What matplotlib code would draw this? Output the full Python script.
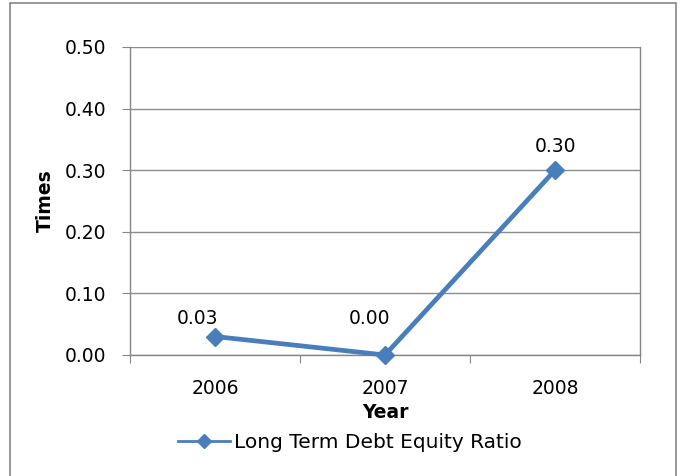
import matplotlib
matplotlib.use("Agg")
import matplotlib.pyplot as plt
from matplotlib.patches import Rectangle

years = ["2006", "2007", "2008"]
ratio = [0.03, 0.00, 0.30]
labels = ["0.03", "0.00", "0.30"]
yticks = [0.0, 0.1, 0.2, 0.3, 0.4, 0.5]
label_offsets_px = [(-17, 18), (-15, 37), (0, 24)]

plt.rcParams['font.family'] = ['DejaVu Sans']
FS = 13.5
fig = plt.figure(figsize=(6.81, 4.76), dpi=100)
ax = fig.add_axes([130/681, 1-355/476, 510/681, 308/476])

color = "#4A7EBB"
x = list(range(len(years)))
line, = ax.plot(x, ratio, color=color, linewidth=3.4, marker="D", markersize=9,
                label="Long Term Debt Equity Ratio", zorder=3, clip_on=False)
for xi, v, t, off in zip(x, ratio, labels, label_offsets_px):
    ax.annotate(t, (xi, v), xytext=off, textcoords="offset pixels",
                ha="center", va="center", fontsize=FS)

ax.set_xlim(-0.5, 2.5)
ax.set_ylim(0, 0.5)
ax.set_yticks(yticks)
ax.set_yticklabels([f"{t:.2f}" for t in yticks], fontsize=FS)
ax.set_xticks([-0.5, 0.5, 1.5, 2.5])
ax.set_xticklabels([])
ax.set_xticks(x, minor=True)
ax.set_xticklabels(years, minor=True, fontsize=FS)
ax.tick_params(axis="x", which="minor", length=0, pad=17)
ax.tick_params(axis="x", which="major", length=6, color="#868686", direction="out")
ax.tick_params(axis="y", length=6, color="#868686", direction="out", pad=11)
ax.grid(axis="y", color="#8c8c8c", linewidth=1)
ax.set_axisbelow(True)
for s in ax.spines.values():
    s.set_color("#868686")
    s.set_linewidth(1)
ax.spines["top"].set_visible(False)

ax.set_ylabel("Times", fontsize=FS, fontweight="bold", labelpad=7)
ax.set_xlabel("Year", fontsize=FS, fontweight="bold", labelpad=4)

leg = fig.legend(handles=[line], loc="center", bbox_to_anchor=(350/681, 1-443/476),
                 frameon=False, fontsize=14.5, handlelength=2.6, handletextpad=0.2,
                 markerscale=0.75)
for h in leg.legend_handles:
    h.set_linewidth(2)

fig.patches.append(Rectangle((9.5/681, -10/476), 666/681, 483/476, transform=fig.transFigure,
                             fill=False, edgecolor="#868686", linewidth=1.2))
fig.savefig("out.png", dpi=100)
